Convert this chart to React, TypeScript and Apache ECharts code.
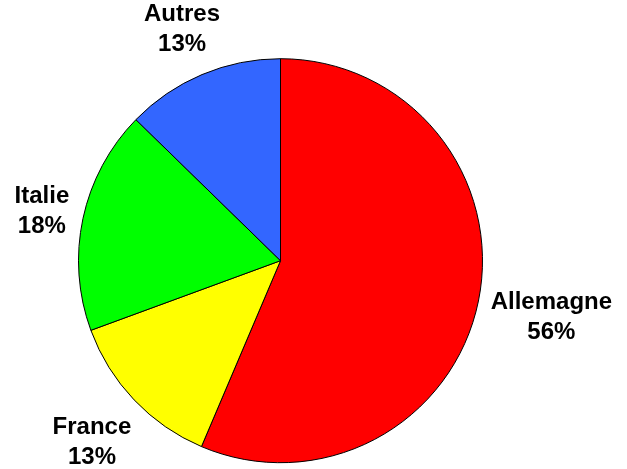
import React, { useEffect, useRef } from "react";
import * as echarts from "echarts";

const categories = ["Allemagne", "France", "Italie", "Autres"];
const shares = [56.4, 13.0, 17.9, 12.7];
const colors = ["#FF0000", "#FFFF00", "#00FF00", "#3366FF"];

const CX = 280.5;
const CY = 260.7;
const R = 202;
const GAP = 9;

export default function App() {
  const ref = useRef<HTMLDivElement>(null);
  useEffect(() => {
    const chart = echarts.init(ref.current!, null, { renderer: "svg" });
    const total = shares.reduce((a, b) => a + b, 0);
    const mids: number[] = [];
    let acc = 0;
    shares.forEach((v) => {
      mids.push(((acc + v / 2) / total) * 2 * Math.PI);
      acc += v;
    });
    chart.setOption({
      animation: false,
      series: [
        {
          type: "pie",
          center: [CX, CY],
          radius: R,
          startAngle: 90,
          clockwise: true,
          avoidLabelOverlap: false,
          data: categories.map((name, i) => ({
            name,
            value: shares[i],
            itemStyle: { color: colors[i] },
          })),
          itemStyle: { borderColor: "#000", borderWidth: 1 },
          emphasis: { disabled: true },
          label: {
            show: true,
            position: "outside",
            formatter: (p: any) => `${p.name}\n${Math.round(p.percent)}%`,
            fontFamily: "'Liberation Sans', Arial, sans-serif",
            fontWeight: "bold",
            fontSize: 24,
            lineHeight: 30,
            color: "#000",
            align: "center",
          },
          labelLine: { show: false },
          labelLayout: (p: any) => {
            const a = mids[p.dataIndex];
            const ux = Math.sin(a);
            const uy = -Math.cos(a);
            const w = p.labelRect.width;
            const h = p.labelRect.height;
            const d = R + GAP + (Math.abs(ux) * w) / 2 + (Math.abs(uy) * h) / 2;
            return {
              x: CX + ux * d,
              y: CY + uy * d,
              align: "center",
              verticalAlign: "middle",
              hideOverlap: false,
            };
          },
        },
      ],
    });
    return () => chart.dispose();
  }, []);
  return (
    <div
      ref={ref}
      style={{ position: "fixed", left: 0, top: 0, width: 627, height: 469 }}
    />
  );
}
